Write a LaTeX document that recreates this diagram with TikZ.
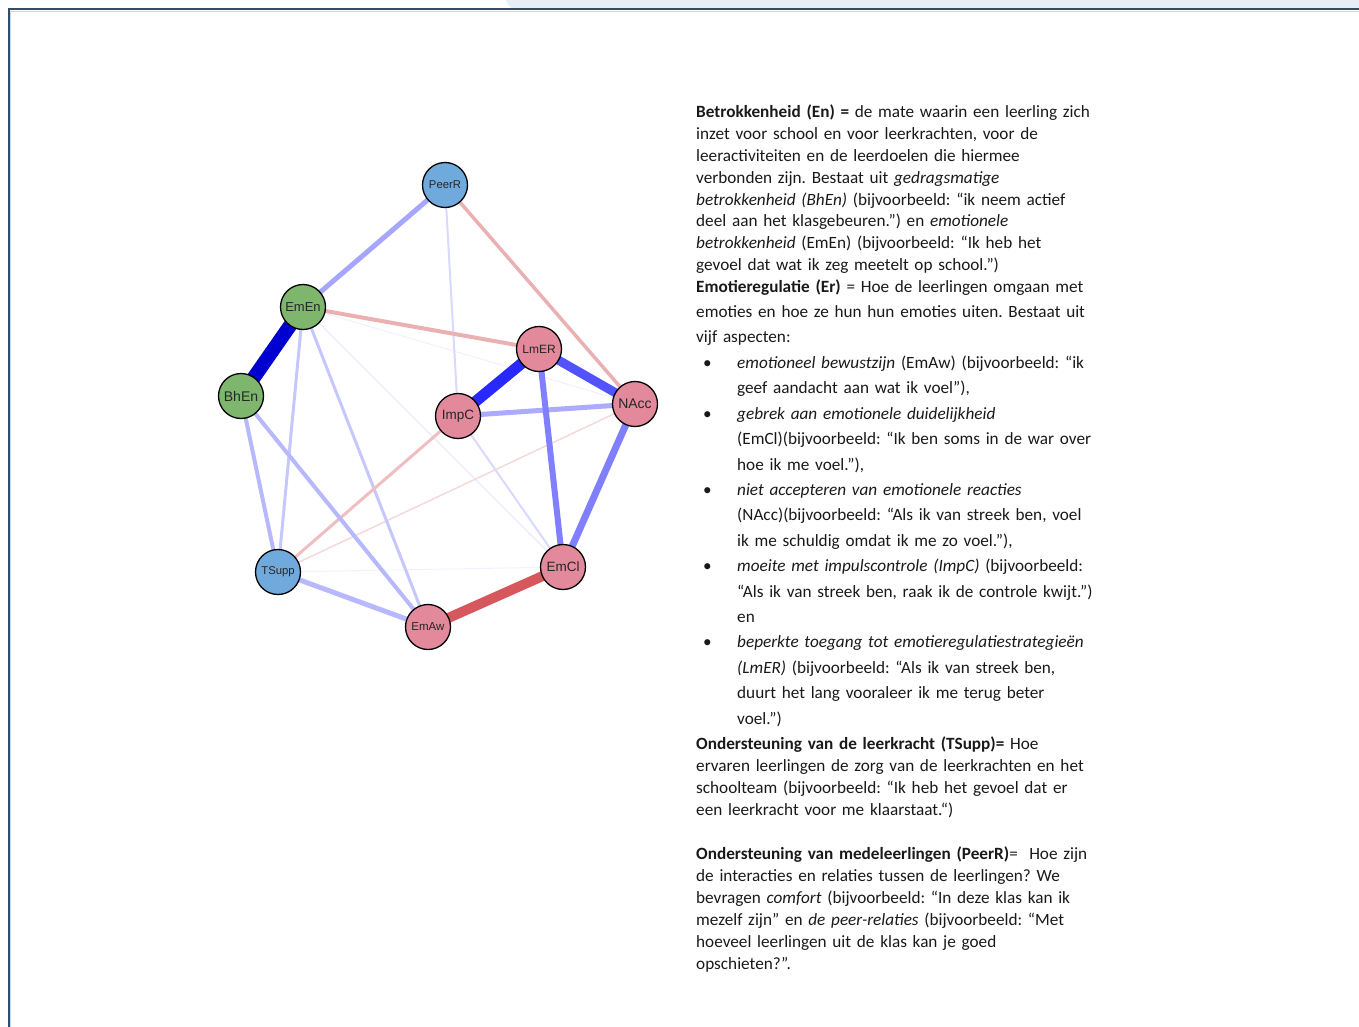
\documentclass[tikz,border=0pt]{standalone}
\usepackage{fontspec}
\setmainfont{Carlito}
\newfontfamily\labelfont{Liberation Sans}
\usetikzlibrary{backgrounds}
\definecolor{engcol}{RGB}{126,182,110}
\definecolor{regcol}{RGB}{226,137,155}
\definecolor{supcol}{RGB}{112,170,220}
\definecolor{framecol}{RGB}{44,78,112}
\definecolor{tabcol}{RGB}{230,238,246}
\definecolor{txtcol}{RGB}{25,25,25}
\definecolor{negbase}{RGB}{210,80,85}
\definecolor{negstrong}{RGB}{214,88,92}
\tikzstyle{var}=[circle,draw=black,line width=1.3pt,minimum size=45pt,
                 inner sep=0pt,text=black!85]
\tikzstyle{eng}=[var,fill=engcol]
\tikzstyle{reg}=[var,fill=regcol]
\tikzstyle{sup}=[var,fill=supcol]
\tikzstyle{para}=[inner sep=0pt,anchor=base west,text width=440pt,align=left,
                  text=txtcol,font=\fontsize{17.2}{21.9}\selectfont]
\tikzset{lbl/.style={font=\labelfont\fontsize{#1}{#1}\selectfont},
         posedge/.style={draw=blue!#1!white},
         negedge/.style={draw=negbase!#1!white}}
\newcommand{\listitem}{\noindent\hangindent=41pt\hangafter=1%
  \makebox[41pt][l]{\hspace{7pt}\textbullet}}
\frenchspacing

\begin{document}
\begin{tikzpicture}[x=1pt,y=-1pt]
  \useasboundingbox (0,0) rectangle (1359,1027);
  % page frame
  \fill[tabcol] (506,0) .. controls (508,5) and (510,8.5) .. (514,8.5)
        -- (1359,8.5) -- (1359,0) -- cycle;
  \draw[supcol!45,line width=1pt] (10.5,1027) -- (10.5,11.5) -- (1359,11.5);
  \draw[framecol,line width=2pt] (8.5,1027) -- (8.5,9.5) -- (1359,9.5);

  % network
  \node[sup,lbl=11.3] (PeerR) at (445,185) {PeerR};
  \node[eng,lbl=13] (EmEn) at (303,307) {EmEn};
  \node[eng,lbl=14] (BhEn) at (241,396) {BhEn};
  \node[reg,lbl=12] (LmER) at (539,349) {LmER};
  \node[reg,lbl=13.5] (ImpC) at (458,416) {ImpC};
  \node[reg,lbl=14] (NAcc) at (635,404) {NAcc};
  \node[sup,lbl=11.3] (TSupp) at (278,572) {TSupp};
  \node[reg,lbl=11.5] (EmAw) at (428,627) {EmAw};
  \node[reg,lbl=13.5] (EmCl) at (563,567) {EmCl};

  \begin{scope}[on background layer]
    \draw[posedge=6,line width=1pt] (EmEn.center) -- (NAcc.center);
    \draw[posedge=7,line width=1.5pt] (EmEn.center) -- (EmCl.center);
    \draw[posedge=5,line width=1pt] (TSupp.center) -- (EmCl.center);
    \draw[negedge=22,line width=1.5pt] (TSupp.center) -- (NAcc.center);
    \draw[posedge=15,line width=2pt] (PeerR.center) -- (ImpC.center);
    \draw[posedge=15,line width=2pt] (ImpC.center) -- (EmCl.center);
    \draw[posedge=22,line width=3pt] (EmEn.center) -- (TSupp.center);
    \draw[posedge=22,line width=3pt] (EmEn.center) -- (EmAw.center);
    \draw[negedge=37,line width=3pt] (ImpC.center) -- (TSupp.center);
    \draw[negedge=45,line width=3.5pt] (PeerR.center) -- (NAcc.center);
    \draw[negedge=45,line width=4pt] (EmEn.center) -- (LmER.center);
    \draw[posedge=28,line width=4pt] (BhEn.center) -- (TSupp.center);
    \draw[posedge=28,line width=4pt] (BhEn.center) -- (EmAw.center);
    \draw[posedge=28,line width=5pt] (TSupp.center) -- (EmAw.center);
    \draw[posedge=35,line width=5pt] (PeerR.center) -- (EmEn.center);
    \draw[posedge=33,line width=5pt] (ImpC.center) -- (NAcc.center);
    \draw[posedge=50,line width=6pt] (LmER.center) -- (EmCl.center);
    \draw[posedge=50,line width=7pt] (NAcc.center) -- (EmCl.center);
    \draw[posedge=68,line width=9pt] (LmER.center) -- (NAcc.center);
    \draw[posedge=84,line width=11pt] (LmER.center) -- (ImpC.center);
    \draw[negstrong,line width=10pt] (EmAw.center) -- (EmCl.center);
    \draw[blue!82!black,line width=14pt] (EmEn.center) -- (BhEn.center);
  \end{scope}

  % definitions
  \node[para] (defEn) at (696,117.5) {%
    \textbf{Betrokkenheid (En) =} de mate waarin een leerling zich\\
    inzet voor school en voor leerkrachten, voor de\\
    leeractiviteiten en de leerdoelen die hiermee\\
    verbonden zijn. Bestaat uit \textit{gedragsmatige}\\
    \textit{betrokkenheid (BhEn)} (bijvoorbeeld: “ik neem actief\\
    deel aan het klasgebeuren.”) en \textit{emotionele}\\
    \textit{betrokkenheid} (EmEn) (bijvoorbeeld: “Ik heb het\\
    gevoel dat wat ik zeg meetelt op school.”)};
  \node[para,font=\fontsize{17.2}{25}\selectfont] (defEr) at (696,292.5) {%
    \textbf{Emotieregulatie (Er)} = Hoe de leerlingen omgaan met\\
    emoties en hoe ze hun hun emoties uiten. Bestaat uit\\
    vijf aspecten:};
  \node[para,font=\fontsize{17.2}{25.4}\selectfont] (aspects) at (696,368.5) {%
    \listitem\textit{emotioneel bewustzijn} (EmAw) (bijvoorbeeld: “ik\newline
      geef aandacht aan wat ik voel”),\par
    \listitem\textit{gebrek aan emotionele duidelijkheid}\newline
      (EmCl)(bijvoorbeeld: “Ik ben soms in de war over\newline
      hoe ik me voel.”),\par
    \listitem\textit{niet accepteren van emotionele reacties}\newline
      (NAcc)(bijvoorbeeld: “Als ik van streek ben, voel\newline
      ik me schuldig omdat ik me zo voel.”),\par
    \listitem\textit{moeite met impulscontrole (ImpC)} (bijvoorbeeld:\newline
      “Als ik van streek ben, raak ik de controle kwijt.”)\newline
      en\par
    \listitem\textit{beperkte toegang tot emotieregulatiestrategieën}\newline
      \textit{(LmER)} (bijvoorbeeld: “Als ik van streek ben,\newline
      duurt het lang vooraleer ik me terug beter\newline
      voel.”)\par};
  \node[para] (defTS) at (696,749.5) {%
    \textbf{Ondersteuning van de leerkracht (TSupp)=} Hoe\\
    ervaren leerlingen de zorg van de leerkrachten en het\\
    schoolteam (bijvoorbeeld: “Ik heb het gevoel dat er\\
    een leerkracht voor me klaarstaat.“)};
  \node[para] (defPR) at (696,859.5) {%
    \textbf{Ondersteuning van medeleerlingen (PeerR)}=~ Hoe zijn\\
    de interacties en relaties tussen de leerlingen? We\\
    bevragen \textit{comfort} (bijvoorbeeld: “In deze klas kan ik\\
    mezelf zijn” en \textit{de peer-relaties} (bijvoorbeeld: “Met\\
    hoeveel leerlingen uit de klas kan je goed\\
    opschieten?”.};
\end{tikzpicture}
\end{document}
